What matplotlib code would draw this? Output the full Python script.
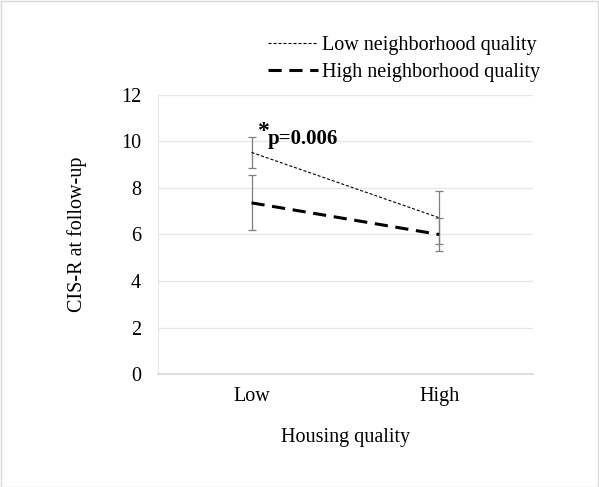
import matplotlib
matplotlib.use("Agg")
import matplotlib.pyplot as plt
from matplotlib.patches import Rectangle

plt.rcParams['font.family'] = ['Liberation Serif', 'DejaVu Serif']
plt.rcParams['lines.scale_dashes'] = False

# data
housing = ["Low", "High"]
low_nbhd = [9.53, 6.72]
low_nbhd_err = [0.66, 1.13]
high_nbhd = [7.36, 6.00]
high_nbhd_err = [1.18, 0.73]
yticks = [0, 2, 4, 6, 8, 10, 12]

FS = 14.5

fig = plt.figure(figsize=(5.99, 4.87), dpi=100)
ax = fig.add_axes([0.2633, 0.232, 0.6265, 0.573])

x = list(range(len(housing)))

# error bars first (gray), lines on top
ax.errorbar(x, low_nbhd, yerr=low_nbhd_err, fmt='none', ecolor='#7f7f7f',
            elinewidth=0.9, capsize=3, capthick=0.9, zorder=2)
ax.errorbar(x, high_nbhd, yerr=high_nbhd_err, fmt='none', ecolor='#7f7f7f',
            elinewidth=0.9, capsize=3, capthick=0.9, zorder=2)

l1, = ax.plot(x, low_nbhd, color='black', lw=0.8, dashes=(2.2, 1.4),
              label='Low neighborhood quality', zorder=3)
l2, = ax.plot(x, high_nbhd, color='black', lw=2.2, dashes=(9.5, 5.5),
              label='High neighborhood quality', zorder=3)

ax.set_xlim(-0.5, 1.5)
ax.set_ylim(0, 12)
ax.set_yticks(yticks)
ax.set_xticks(x)
ax.set_xticklabels(housing)
ax.tick_params(length=0, labelsize=FS, colors='black')
ax.tick_params(axis='x', pad=9)
ax.tick_params(axis='y', pad=12)
ax.grid(axis='y', color='#e6e6e6', lw=0.9)
ax.set_axisbelow(True)
for s in ['top', 'right']:
    ax.spines[s].set_visible(False)
ax.spines['left'].set_color('#e6e6e6')
ax.spines['bottom'].set_color('#d9d9d9')
ax.spines['bottom'].set_linewidth(1.2)

ax.set_xlabel('Housing quality', fontsize=FS, labelpad=16)
ax.set_ylabel('CIS-R at follow-up', fontsize=FS, labelpad=24)

# significance note
ax.text(0.029, 10.2, '*', fontsize=17, fontweight='bold', ha='left', va='baseline')
ax.text(0.088, 9.88, 'p=0.006', fontsize=15, fontweight='bold', ha='left', va='baseline')

fig.legend(handles=[l1, l2], loc='upper left', bbox_to_anchor=(0.434, 0.943),
           frameon=False, fontsize=FS, handlelength=2.5, handletextpad=0.2,
           labelspacing=0.38, borderaxespad=0)

fig.patches.append(Rectangle((0.001, 0.001), 0.997, 0.997, transform=fig.transFigure,
                             fill=False, edgecolor='#d9d9d9', lw=1))

fig.savefig('out.png', dpi=100)
